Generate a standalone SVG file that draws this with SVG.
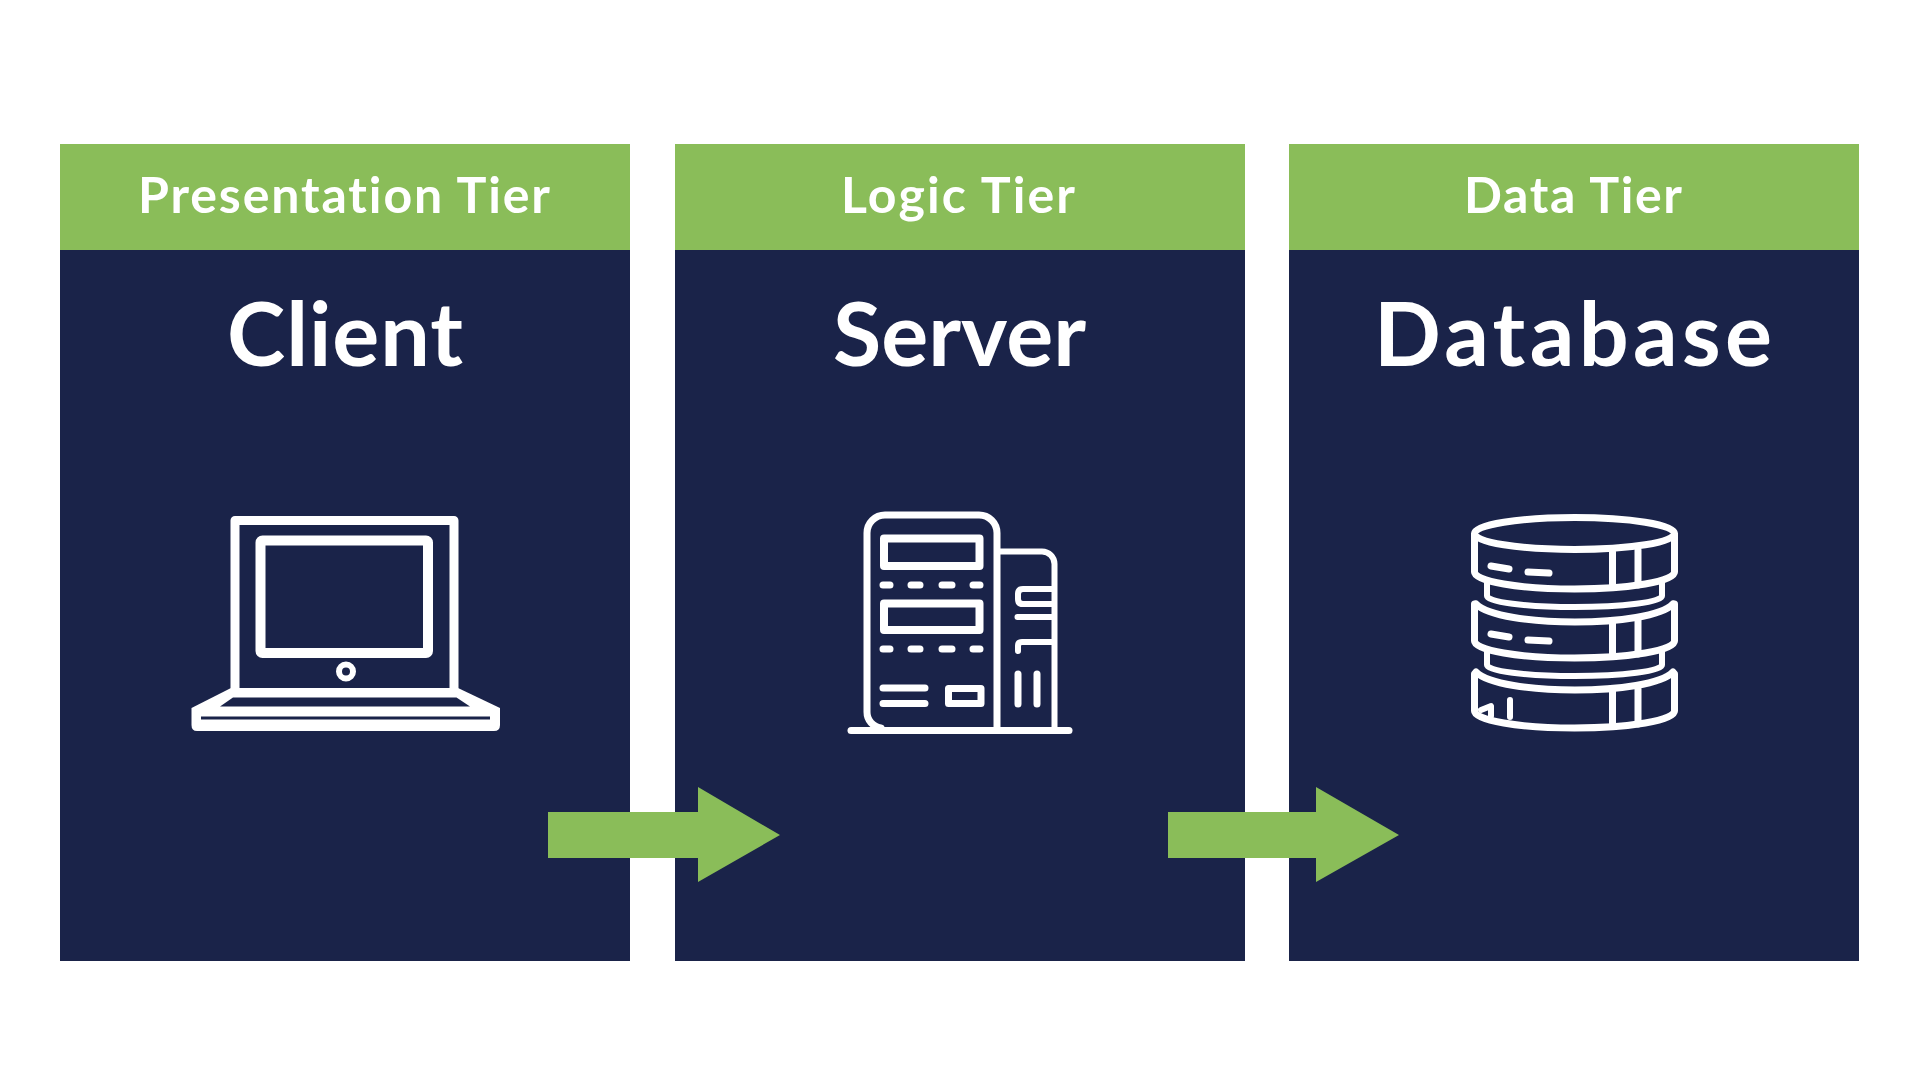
<svg xmlns="http://www.w3.org/2000/svg" width="1920" height="1080" viewBox="0 0 1920 1080">
  <style>
    .head { fill: #8abd59; }
    .body { fill: #1a2349; }
    .label { fill: #fff; font-family: "Lato", "Liberation Sans", sans-serif; text-anchor: middle; font-variant-ligatures: none; }
    .tier { font-size: 50px; font-weight: 700; }
    .title { font-size: 88px; font-weight: 700; }
    .ln { fill: none; stroke: #fff; stroke-linejoin: round; stroke-linecap: round; }
    .arrow { fill: #8abd59; }
  </style>
  <defs>
    <!-- one storage platter: rim sides, lower edge, and the two band marks -->
    <g id="platter">
      <path class="ln" stroke-width="7" d="M1474.5,0V37A100,17 0 0 0 1674.5,37V0"/>
      <path class="ln" stroke-width="7" d="M1612.500,17V52M1638,15V50"/>
    </g>
  </defs>
  <rect width="1920" height="1080" fill="#fff"/>

  <g id="presentation-tier">
    <rect class="body" x="60" y="250" width="570" height="711"/>
    <rect class="head" x="60" y="144" width="570" height="106"/>
    <text class="label tier" x="344" y="213" textLength="412">Presentation Tier</text>
    <text class="label title" x="345" y="366" textLength="236">Client</text>
    <path class="ln" stroke-width="9" d="M235,688V520.500H454V688"/>
    <rect class="ln" stroke-width="10" x="260.500" y="540.500" width="167.500" height="112.500" rx="2"/>
    <circle class="ln" stroke-width="6" cx="346" cy="671.500" r="7"/>
    <path fill="#fff" d="M231,688H458L500,708V725Q500,731 494,731H197Q191.500,731 191.500,725V708Z"/>
    <path class="body" d="M233,697.500H456.500L470,706.500H220Z"/>
    <path class="body" d="M201,716.500H490V719.500H201Z"/>
  </g>

  <g id="logic-tier">
    <rect class="body" x="675" y="250" width="570" height="711"/>
    <rect class="head" x="675" y="144" width="570" height="106"/>
    <text class="label tier" x="958" y="213" textLength="234">Logic Tier</text>
    <text class="label title" x="959.500" y="366" textLength="253">Server</text>
    <path class="ln" stroke-width="7" d="M997,728V533A18,18 0 0 0 979,515H885A18,18 0 0 0 867,533V712A16,16 0 0 0 881,728"/>
    <path class="ln" stroke-width="7" d="M851,730.500H1069"/>
    <rect class="ln" stroke-width="8" x="884" y="538.500" width="95.500" height="27.500"/>
    <rect class="ln" stroke-width="8" x="884" y="603.500" width="95.500" height="26.500"/>
    <path class="ln" stroke-width="7" d="M883,585H890M911,585H920M942,585H952M973,585H980M883,649H890M911,649H920M942,649H952M973,649H980"/>
    <path class="ln" stroke-width="7" d="M883,688H925M883,703.500H925"/>
    <rect class="ln" stroke-width="7" x="948.500" y="688.500" width="32.500" height="15"/>
    <path class="ln" stroke-width="6" d="M1000,551.500H1042A12.500,12.500 0 0 1 1054.500,564V728"/>
    <path class="ln" stroke-width="6" d="M1052,589H1023Q1018,589 1018,594V599Q1018,604 1023,604H1052M1017.500,617H1052M1052,642H1022Q1018,642 1018,646V651"/>
    <path class="ln" stroke-width="7" d="M1018,674V704M1037,674V704"/>
  </g>

  <g id="data-tier">
    <rect class="body" x="1289" y="250" width="570" height="711"/>
    <rect class="head" x="1289" y="144" width="570" height="106"/>
    <text class="label tier" x="1573" y="213" textLength="218">Data Tier</text>
    <text class="label title" x="1573" y="366" textLength="398">Database</text>

    <ellipse class="ln" stroke-width="7" cx="1574.500" cy="533.500" rx="100" ry="16"/>
    <use href="#platter" y="535"/>
    <use href="#platter" y="604"/>
    <use href="#platter" y="674"/>
    <path class="ln" stroke-width="6" d="M1487,582V596A87,11 0 0 0 1662,596V582"/>
    <path class="ln" stroke-width="6" d="M1487,651V665A87,11 0 0 0 1662,665V651"/>
    <path class="ln" stroke-width="7" d="M1476,604C1500,628 1650,628 1673,604"/>
    <path class="ln" stroke-width="7" d="M1476,672C1500,696 1650,696 1673,672"/>
    <path class="ln" stroke-width="7" d="M1491,566L1509,569M1528,572L1549,573M1491,634L1509,637M1528,640L1549,641"/>
    <path class="ln" stroke-width="6" d="M1481,710L1491,706V716M1510,700V717"/>
  </g>

  <g id="connectors">
    <polygon class="arrow" points="548,812 698,812 698,787 780,835 698,882 698,858 548,858"/>
    <polygon class="arrow" points="1168,812 1316,812 1316,787 1399,835 1316,882 1316,858 1168,858"/>
  </g>
</svg>
